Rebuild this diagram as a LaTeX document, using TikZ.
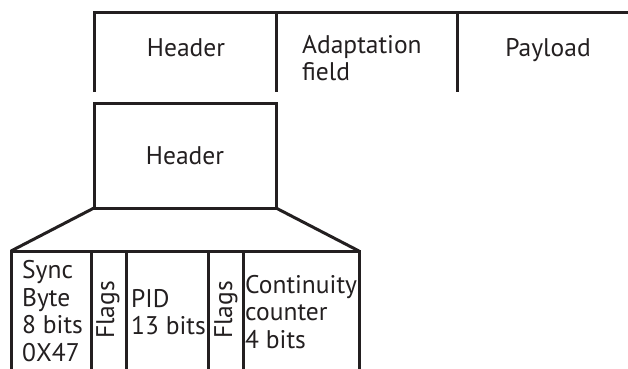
\documentclass[tikz,border=0pt]{standalone}
\usepackage{fontspec}
\setmainfont{PT Sans}
\usetikzlibrary{positioning}
\definecolor{ink}{HTML}{231F20}

\begin{document}
\begin{tikzpicture}[x=1pt,y=-1pt,
  font=\fontsize{25.5}{27.5}\selectfont,
  edge/.style={line width=3pt,draw=ink},
  frame/.style={edge,rectangle,inner sep=0pt,outer sep=0pt},
  cell/.style={frame,minimum height=130pt,anchor=north west},
  txt/.style={align=left,inner sep=0pt,text=ink}
]
  \clip (0,0) rectangle (628,368);

  % transport packet, open at the bottom and the right
  \coordinate (hdrL) at (94,12);
  \coordinate (hdrR) at (276,12);
  \coordinate (adpR) at (457,12);
  \coordinate (payR) at (628,12);
  \draw[edge] (hdrL |- 0,92) -- (hdrL) -- (payR);
  \draw[edge] (hdrR) -- (hdrR |- 0,92);
  \draw[edge] (adpR) -- (adpR |- 0,92);
  \node[txt] (hdrT) at (186,48) {Header};
  \node[txt,anchor=north west] (adpT) at (302,35) {Adaptation\\field};
  \node[txt] (payT) at (548,50) {Payload};

  % header, enlarged
  \node[frame,minimum width=182pt,minimum height=105pt,text=ink] (hbox) at (185,155.5) {Header};

  % header fields
  \node[cell,minimum width=80pt] (sync) at (11,251) {};
  \node[cell,minimum width=35pt,right=0pt of sync] (flgA) {};
  \node[cell,minimum width=82pt,right=0pt of flgA] (pid) {};
  \node[cell,minimum width=35pt,right=0pt of pid] (flgB) {};
  \node[cell,minimum width=116pt,right=0pt of flgB] (cc) {};

  \draw[edge] (hbox.south west) -- (sync.north west);
  \draw[edge] (hbox.south east) -- (cc.north east);

  \node[txt,anchor=west] (syncT) at (22,311) {Sync\\Byte\\8 bits\\0X47};
  \node[txt,rotate=90] (flgAT) at (108,310) {Flags};
  \node[txt,anchor=west] (pidT) at (131,312) {PID\\13 bits};
  \node[txt,rotate=90] (flgBT) at (226,310) {Flags};
  \node[txt,anchor=west] (ccT) at (245,312) {Continuity\\counter\\4 bits};
\end{tikzpicture}
\end{document}
